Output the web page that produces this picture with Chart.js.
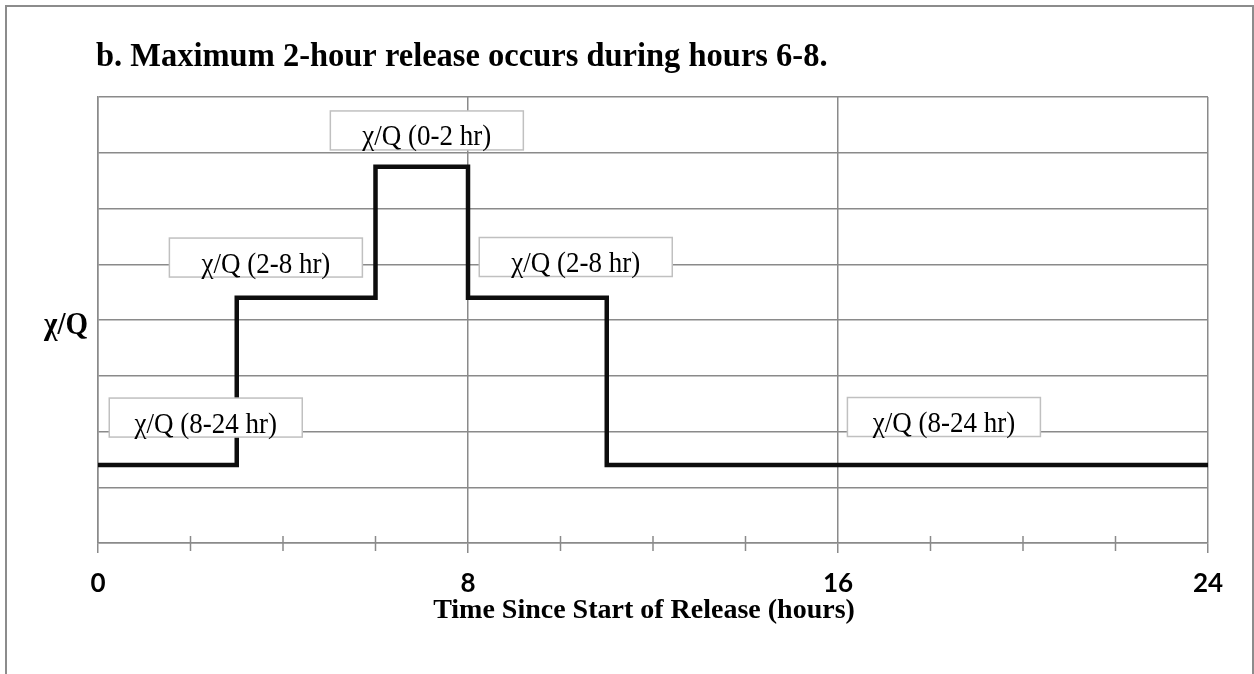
<!DOCTYPE html>
<html>
<head>
<meta charset="utf-8">
<script src="https://cdn.jsdelivr.net/npm/chart.js@4.4.1/dist/chart.umd.min.js"></script>
<style>
  html, body { margin: 0; padding: 0; background: #fff; }
  #wrap { width: 1254px; height: 674px; }
</style>
</head>
<body>
<div id="wrap"><canvas id="chiChart" width="1254" height="674"></canvas></div>
<script>
// step curve: hour where each level starts, and chi/Q level (arbitrary units)
var stepHours = [0, 3, 6, 8, 11, 24];
var chiOverQ = [1.4, 4.4, 6.75, 4.4, 1.4, 1.4];

var xTickValues = [0, 8, 16, 24];
var xTickLabels = ['0', '8', '16', '24'];

var boxTexts = ['χ/Q (0-2 hr)', 'χ/Q (2-8 hr)', 'χ/Q (2-8 hr)', 'χ/Q (8-24 hr)', 'χ/Q (8-24 hr)'];

var titleText = 'b. Maximum 2-hour release occurs during hours 6-8.';
var xTitleText = 'Time Since Start of Release (hours)';
var yTitleText = 'χ/Q';

// where the label boxes sit, in chart units (hours, level)
var boxAnchors = [
    { x: 7.11, y: 7.40 },
    { x: 3.63, y: 5.12 },
    { x: 10.33, y: 5.13 },
    { x: 2.33, y: 2.25 },
    { x: 18.29, y: 2.26 }
];

var gridGrey = '#8a8a8a';
var serif = '"Liberation Serif", "Times New Roman", serif';

var pts = [];
for (var i = 0; i < stepHours.length; i++) {
    pts.push({ x: stepHours[i], y: chiOverQ[i] });
}

// text a bit taller than wide, like the source picture
function tallText(c, txt, x, y, sy) {
    c.save();
    c.translate(x, y);
    c.scale(1, sy);
    c.fillText(txt, 0, 0);
    c.restore();
}

var decor = {
    id: 'decor',
    beforeDraw: function (chart) {
        var c = chart.ctx;
        c.save();
        c.fillStyle = '#fff';
        c.fillRect(0, 0, chart.width, chart.height);
        c.strokeStyle = '#8c8c8c';
        c.lineWidth = 2;
        c.strokeRect(6, 6, 1247, 720);
        c.restore();
    },
    afterDatasetsDraw: function (chart) {
        var c = chart.ctx;
        var xs = chart.scales.x, ys = chart.scales.y;
        c.save();
        c.font = '27px ' + serif;
        c.textAlign = 'center';
        c.textBaseline = 'alphabetic';
        for (var i = 0; i < boxTexts.length; i++) {
            var cx = xs.getPixelForValue(boxAnchors[i].x);
            var cy = ys.getPixelForValue(boxAnchors[i].y);
            c.fillStyle = '#fff';
            c.fillRect(cx - 96.5, cy - 19.5, 193, 39);
            c.strokeStyle = '#c0c0c0';
            c.lineWidth = 1.5;
            c.strokeRect(cx - 96.5, cy - 19.5, 193, 39);
            c.fillStyle = '#000';
            tallText(c, boxTexts[i], cx, cy + 15, 1.1);
        }
        c.restore();
    },
    afterDraw: function (chart) {
        var c = chart.ctx;
        var xs = chart.scales.x, ys = chart.scales.y;
        var bottom = chart.chartArea.bottom;
        c.save();
        // minor tick marks crossing the axis
        c.strokeStyle = gridGrey;
        c.lineWidth = 1.5;
        xs.ticks.forEach(function (t) {
            if (t.value % 8 !== 0) {
                var px = xs.getPixelForValue(t.value);
                c.beginPath();
                c.moveTo(px, bottom - 7);
                c.lineTo(px, bottom + 8);
                c.stroke();
            }
        });
        c.fillStyle = '#000';
        c.textBaseline = 'alphabetic';
        c.font = 'bold 32.5px ' + serif;
        c.textAlign = 'left';
        tallText(c, titleText, 96, 66, 1.05);
        c.font = 'bold 28px ' + serif;
        c.textAlign = 'center';
        tallText(c, xTitleText, 644, 618, 1.0);
        c.font = 'bold 29px ' + serif;
        tallText(c, yTitleText, 66, ys.getPixelForValue(4) + 14, 1.1);
        c.restore();
    }
};

new Chart(document.getElementById('chiChart'), {
    type: 'line',
    data: {
        datasets: [{
            data: pts,
            stepped: 'before',
            borderColor: '#0d0d0d',
            borderWidth: 4.5,
            borderJoinStyle: 'miter',
            pointRadius: 0,
            fill: false
        }]
    },
    options: {
        responsive: false,
        animation: false,
        devicePixelRatio: 1,
        layout: { padding: { left: 0, right: 46, top: 97, bottom: 0 } },
        plugins: {
            legend: { display: false },
            tooltip: { enabled: false },
            title: { display: false }
        },
        scales: {
            x: {
                type: 'linear',
                min: 0,
                max: 24,
                afterFit: function (s) { s.height = 674 - 543; },
                ticks: {
                    stepSize: 2,
                    autoSkip: false,
                    maxRotation: 0,
                    padding: 15,
                    color: '#000',
                    font: { family: 'Lato', weight: 'bold', size: 26 },
                    callback: function (v) {
                        var k = xTickValues.indexOf(v);
                        return k >= 0 ? xTickLabels[k] : '';
                    }
                },
                grid: {
                    color: function (ctx) {
                        return ctx.tick && ctx.tick.value % 8 === 0 ? gridGrey : 'rgba(0,0,0,0)';
                    },
                    tickColor: function (ctx) {
                        return ctx.tick && ctx.tick.value % 8 === 0 ? gridGrey : 'rgba(0,0,0,0)';
                    },
                    lineWidth: 1.5,
                    tickLength: 10
                },
                border: { display: true, color: gridGrey, width: 1.5 }
            },
            y: {
                min: 0,
                max: 8,
                afterFit: function (s) { s.width = 98; },
                ticks: { stepSize: 1, display: false },
                grid: { color: gridGrey, lineWidth: 1.5, drawTicks: false },
                border: { display: true, color: gridGrey, width: 1.5 }
            }
        }
    },
    plugins: [decor]
});
</script>
</body>
</html>
